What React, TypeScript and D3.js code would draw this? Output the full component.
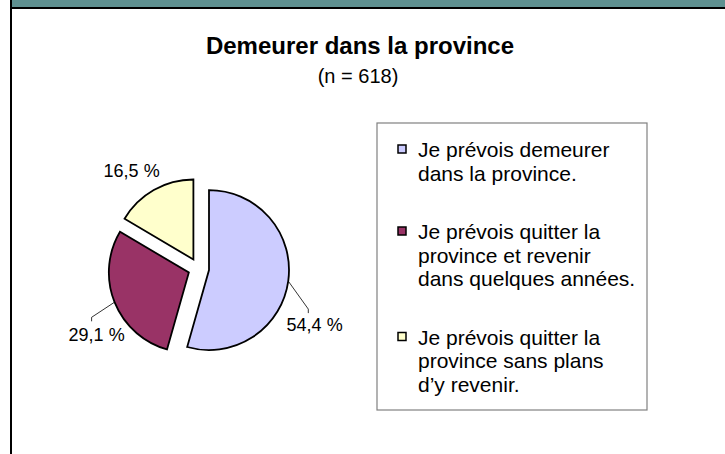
import React from "react";
import * as d3 from "d3";

const categories = [
  "Je prévois demeurer dans la province.",
  "Je prévois quitter la province et revenir dans quelques années.",
  "Je prévois quitter la province sans plans d'y revenir.",
];
const values = [54.4, 29.1, 16.5];
const valueLabels = ["54,4 %", "29,1 %", "16,5 %"];
const legendLines = [
  ["Je prévois demeurer", "dans la province."],
  ["Je prévois quitter la", "province et revenir", "dans quelques années."],
  ["Je prévois quitter la", "province sans plans", "d\u2019y revenir."],
];
const colors = ["#CCCCFF", "#993366", "#FFFFCC"];
const title = "Demeurer dans la province";
const subtitle = "(n = 618)";

const W = 725;
const H = 454;
const FONT = "'Liberation Sans', Arial, Helvetica, sans-serif";

// layout
const cx = 198.6;
const cy = 268.6;
const R = 80;
const EXPLODE = 10.5;
// label anchor relative to pie center, and leader line flag
const labelLayout = [
  { dx: 88, dy: 62, anchor: "start", leader: true, kx: 109.7, ky: 40.5 },
  { dx: -130, dy: 72, anchor: "start", leader: true, kx: -107, ky: 48.7 },
  { dx: -95, dy: -92, anchor: "start", leader: false, kx: 0, ky: 0 },
];

export default function App() {
  const pie = d3
    .pie<number>()
    .sort(null)
    .startAngle(0)
    .endAngle(2 * Math.PI)
    .value((d) => d);
  const arcs = pie(values);
  const arc = d3.arc<d3.PieArcDatum<number>>().innerRadius(0).outerRadius(R);

  const legendX = 377;
  const legendY = 123;
  const legendW = 270;
  const legendH = 287;
  const lineH = 23.5;
  const groupGap = 35;
  let yCursor = legendY + 34;
  const legendGroups = legendLines.map((lines, i) => {
    const y0 = yCursor;
    yCursor += lines.length * lineH + groupGap;
    return { lines, y0, i };
  });

  return (
    <svg
      width={W}
      height={H}
      style={{ position: "absolute", left: 0, top: 0, background: "#fff" }}
      fontFamily={FONT}
    >
      <rect x={0} y={0} width={W} height={H} fill="#fff" />
      {/* header band */}
      <rect x={12} y={0} width={W - 12} height={7} fill="#5F9191" />
      <rect x={12} y={7} width={W - 12} height={2} fill="#000" />
      <rect x={10} y={0} width={2} height={H} fill="#000" />

      <text x={360} y={54} textAnchor="middle" fontSize={24} fontWeight="bold" fill="#000">
        {title}
      </text>
      <text x={358} y={83} textAnchor="middle" fontSize={20} fill="#000">
        {subtitle}
      </text>

      {/* pie */}
      <g>
        {arcs.map((a, i) => {
          const mid = (a.startAngle + a.endAngle) / 2;
          const ox = Math.sin(mid) * EXPLODE;
          const oy = -Math.cos(mid) * EXPLODE;
          return (
            <path
              key={i}
              d={arc(a) || ""}
              transform={`translate(${cx + ox},${cy + oy})`}
              fill={colors[i]}
              stroke="#000"
              strokeWidth={1.8}
              strokeLinejoin="miter"
            />
          );
        })}
      </g>

      {/* labels + leader lines */}
      {arcs.map((a, i) => {
        const mid = (a.startAngle + a.endAngle) / 2;
        const L = labelLayout[i];
        const ox = Math.sin(mid) * EXPLODE;
        const oy = -Math.cos(mid) * EXPLODE;
        const px = cx + ox + Math.sin(mid) * R;
        const py = cy + oy - Math.cos(mid) * R;
        const kx = cx + L.kx;
        const ky = cy + L.ky;
        return (
          <g key={i}>
            {L.leader && (
              <polyline
                points={`${px},${py} ${kx},${ky} ${kx},${ky + 4}`}
                fill="none"
                stroke="#000"
                strokeWidth={0.8}
              />
            )}
            <text
              x={cx + L.dx}
              y={cy + L.dy}
              textAnchor={L.anchor as any}
              fontSize={18}
              fill="#000"
            >
              {valueLabels[i]}
            </text>
          </g>
        );
      })}

      {/* legend */}
      <rect
        x={legendX}
        y={legendY}
        width={legendW}
        height={legendH}
        fill="#fff"
        stroke="#808080"
        strokeWidth={1.2}
      />
      {legendGroups.map((g) => (
        <g key={g.i}>
          <rect
            x={legendX + 21}
            y={g.y0 - 12}
            width={8}
            height={8}
            fill={colors[g.i]}
            stroke="#000"
            strokeWidth={1.5}
          />
          <text fontSize={21} fill="#000">
            {g.lines.map((ln, j) => (
              <tspan key={j} x={legendX + 41} y={g.y0 + j * lineH}>
                {ln}
              </tspan>
            ))}
          </text>
        </g>
      ))}
    </svg>
  );
}
